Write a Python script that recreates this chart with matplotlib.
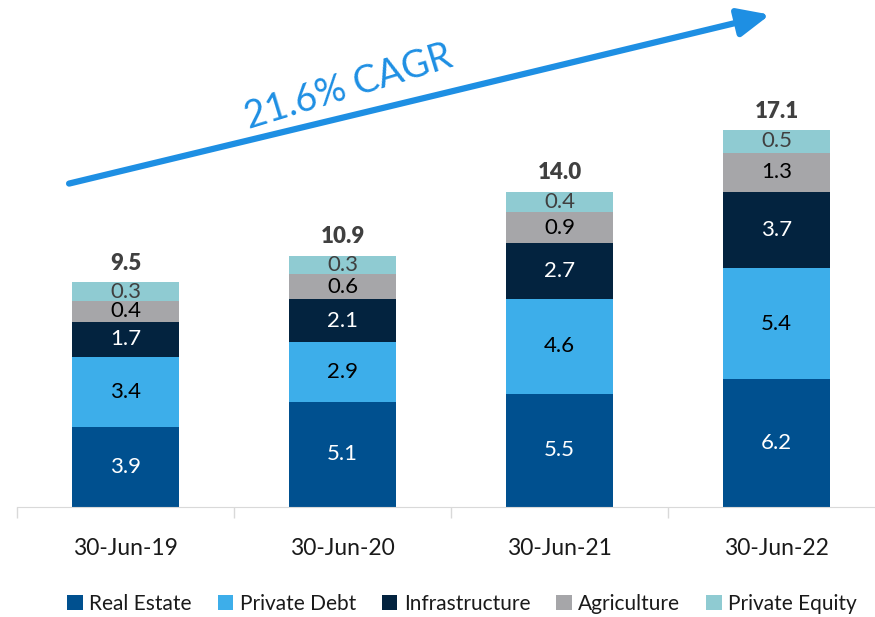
import numpy as np
import matplotlib.pyplot as plt

plt.rcParams['font.family'] = ['Lato', 'DejaVu Sans']

dates = ["30-Jun-19", "30-Jun-20", "30-Jun-21", "30-Jun-22"]
real_estate = [3.9, 5.1, 5.5, 6.2]
private_debt = [3.4, 2.9, 4.6, 5.4]
infrastructure = [1.7, 2.1, 2.7, 3.7]
agriculture = [0.4, 0.6, 0.9, 1.3]
private_equity = [0.3, 0.3, 0.4, 0.5]
totals = [9.5, 10.9, 14.0, 17.1]
cagr_text = "21.6% CAGR"

series = [
    ("Real Estate", real_estate, "#00508F", "white"),
    ("Private Debt", private_debt, "#3DAEEA", "black"),
    ("Infrastructure", infrastructure, "#03233F", "white"),
    ("Agriculture", agriculture, "#A6A6A9", "black"),
    ("Private Equity", private_equity, "#8FCBD2", "#404040"),
]

# thin segments get a bit of extra room so their labels fit (like the original)
thin_limit = 1.5
thin_pad = 0.6

fig = plt.figure(figsize=(8.75, 6.17), dpi=100)
ax = fig.add_axes([17 / 875, 110 / 617, 868 / 875, 507 / 617])

x = np.arange(len(dates))
bottom = np.zeros(len(dates))
for name, vals, col, tcol in series:
    vals = np.array(vals)
    h = np.where(vals < thin_limit, vals + thin_pad, vals)
    ax.bar(x, h, width=0.49, bottom=bottom, color=col, label=name)
    for xi, b, hi, v in zip(x, bottom, h, vals):
        ax.text(xi, b + hi / 2, f"{v:.1f}", ha="center", va="center",
                fontsize=16, color=tcol)
    bottom = bottom + h

for xi, top, t in zip(x, bottom, totals):
    ax.annotate(f"{t:.1f}", (xi, top), xytext=(0, 6), textcoords="offset points",
                ha="center", va="bottom", fontsize=16, fontweight="heavy", color="#404040")

ax.set_xlim(-0.5, 3.5)
ax.set_ylim(0, 507 / 20.6)
ax.set_xticks(x)
ax.set_xticklabels(dates, fontsize=16.5, color="#1a1a1a")
ax.tick_params(axis="x", which="major", length=0, pad=22)
ax.set_xticks(np.arange(-0.5, 4, 1), minor=True)
ax.tick_params(axis="x", which="minor", length=8, color="#D9D9D9", width=1)
ax.set_yticks([])
for s in ["top", "right", "left"]:
    ax.spines[s].set_visible(False)
ax.spines["bottom"].set_color("#D9D9D9")

# CAGR arrow
ax.annotate("", xy=(2.97, 23.9), xytext=(-0.26, 15.7),
            arrowprops=dict(arrowstyle="-|>,head_length=1.9,head_width=0.85",
                            color="#1E8FE3", lw=4.5, shrinkA=0, shrinkB=0))
ax.text(1.03, 20.4, cagr_text, fontsize=27, color="#1E8FE3", rotation=17,
        ha="center", va="center", rotation_mode="anchor")

leg = fig.legend(loc="center", bbox_to_anchor=(0.528, 0.021), ncol=5, frameon=False,
                 fontsize=15, handlelength=0.75, handleheight=0.75, handletextpad=0.3,
                 columnspacing=1.25)
for txt in leg.get_texts():
    txt.set_color("#1a1a1a")

fig.savefig("out.png", dpi=100)
